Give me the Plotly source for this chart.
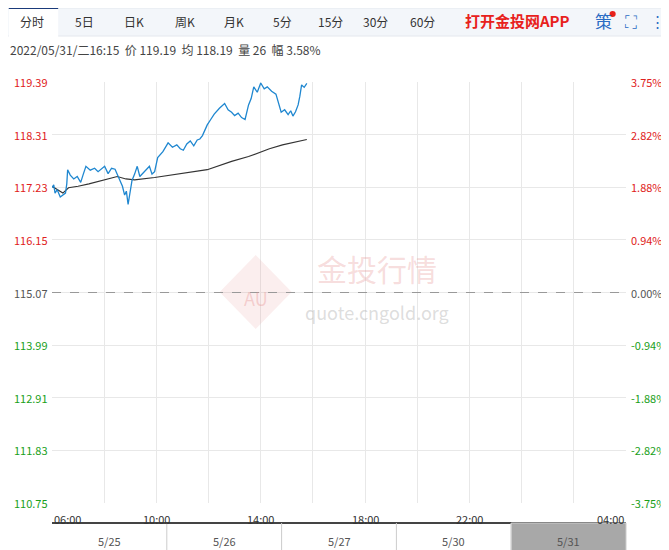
import plotly.graph_objects as go

# 分时价格 (分钟, 从06:00起)
t_price = [0, 4, 7, 12, 19, 25, 31, 34, 36, 42, 50, 58, 66, 72, 78, 88, 98, 106, 113, 121, 129, 137, 145, 151,
           157, 162, 167, 171, 175, 180, 184, 190, 196, 202, 208, 216, 224, 230, 236, 243, 255, 267, 277, 287,
           295, 302, 310, 318, 326, 334, 340, 346, 352, 357, 365, 373, 385, 397, 405, 413, 420, 428, 436, 444,
           452, 458, 464, 472, 480, 488, 495, 505, 515, 521, 527, 535, 543, 549, 554, 560, 566, 570, 574, 580, 586]
price = [117.22, 117.28, 117.11, 117.18, 117.03, 117.08, 117.11, 117.30, 117.59, 117.48, 117.40, 117.45, 117.33,
         117.50, 117.66, 117.58, 117.62, 117.55, 117.60, 117.66, 117.51, 117.62, 117.60, 117.48,
         117.37, 117.25, 117.07, 117.15, 116.88, 117.20, 117.37, 117.50, 117.66, 117.45, 117.51, 117.60,
         117.66, 117.50, 117.55, 117.84, 117.96, 118.14, 118.05, 118.10, 118.02, 117.99, 118.12, 118.18,
         118.08, 118.20, 118.22, 118.29, 118.40, 118.51, 118.62, 118.73, 118.85, 118.95, 118.82, 118.77,
         118.70, 118.75, 118.66, 118.62, 118.92, 119.05, 119.29, 119.18, 119.37, 119.25, 119.29, 119.20,
         119.14, 118.95, 118.77, 118.82, 118.72, 118.80, 118.69, 118.78, 118.92, 119.10, 119.33, 119.28, 119.36]

# 均价
t_avg = [0, 12, 25, 38, 60, 85, 113, 150, 170, 190, 236, 300, 357, 413, 452, 500, 530, 586]
avg = [117.25, 117.18, 117.11, 117.22, 117.25, 117.30, 117.36, 117.45, 117.40, 117.38, 117.43, 117.52,
       117.59, 117.76, 117.86, 118.02, 118.10, 118.21]

base = 115.07
y_ticks = [119.39, 118.31, 117.23, 116.15, 115.07, 113.99, 112.91, 111.83, 110.75]
pct_labels = ['3.75%', '2.82%', '1.88%', '0.94%', '0.00%', '-0.94%', '-1.88%', '-2.82%', '-3.75%']
x_grid = list(range(0, 1321, 120))
x_labels = {0: '06:00', 240: '10:00', 480: '14:00', 720: '18:00', 960: '22:00', 1320: '04:00'}
nav_dates = ['5/25', '5/26', '5/27', '5/30', '5/31']


def px(x):  # 页面像素 -> paper
    return (x - 52) / 558


def py(y):
    return (503 - y) / 421


def txt(x, y, s, size, color, xa='center'):
    return dict(x=px(x), y=py(y), xref='paper', yref='paper', text=s, showarrow=False,
                xanchor=xa, yanchor='middle', font=dict(size=size, color=color))


fig = go.Figure()
fig.add_trace(go.Scatter(x=t_avg, y=avg, mode='lines', line=dict(color='#333333', width=1.2), hoverinfo='skip'))
fig.add_trace(go.Scatter(x=t_price, y=price, mode='lines', line=dict(color='#1f87d0', width=1.3), hoverinfo='skip'))

fig.update_xaxes(range=[0, 1320], tickvals=x_grid, showticklabels=False, showgrid=True,
                 gridcolor='#e8e8e8', zeroline=False, showline=False)
fig.update_yaxes(range=[110.75, 119.39], tickvals=y_ticks, showticklabels=False, showgrid=True,
                 gridcolor='#e8e8e8', zeroline=False)

anns = []
for v, p in zip(y_ticks, pct_labels):
    c = '#e02020' if v > base else ('#19a019' if v < base else '#555555')
    anns.append(dict(x=-0.003, y=v, xref='paper', yref='y', text=f'{v:.2f}', showarrow=False,
                     xanchor='right', yanchor='middle', font=dict(size=11, color=c)))
    anns.append(dict(x=1.005, y=v, xref='paper', yref='y', text=p, showarrow=False,
                     xanchor='left', yanchor='middle', font=dict(size=11, color=c)))
for t, s in x_labels.items():
    xa = 'left' if t == 0 else ('right' if t == 1320 else 'center')
    anns.append(dict(x=t, y=-0.015, xref='x', yref='paper', text=s, showarrow=False, xanchor=xa,
                     yanchor='top', font=dict(size=11, color='#333333')))
for i, d in enumerate(nav_dates):
    anns.append(dict(x=(i + 0.5) / 5, y=py(541), xref='paper', yref='paper', text=d, showarrow=False,
                     xanchor='center', yanchor='middle', font=dict(size=11, color='#555555')))

# 顶部标签栏
tabs = ['分时', '5日', '日K', '周K', '月K', '5分', '15分', '30分', '60分']
tab_x = [33, 84, 132, 181, 229, 276, 323, 366, 412]
for s, xp in zip(tabs, tab_x):
    anns.append(txt(xp, 22, s, 12, '#333333'))
anns.append(txt(505, 21, '<b>打开金投网APP</b>', 15, '#e8211c'))
anns.append(txt(588, 21, '策', 17, '#2b6cc4'))
anns.append(txt(615, 21, '⛶', 17, '#2b6cc4'))
anns.append(txt(641, 21, '⋮', 15, '#2b6cc4'))
anns.append(txt(9, 50, '2022/05/31/二16:15  价 119.19  均 118.19  量 26  幅 3.58%', 12, '#444444', xa='left'))
# 水印
anns.append(txt(368, 268, '金投行情', 30, 'rgba(230,140,140,0.3)'))
anns.append(txt(368, 312, 'quote.cngold.org', 18, 'rgba(180,180,180,0.45)'))
anns.append(txt(250, 298, 'AU', 18, 'rgba(230,140,140,0.35)'))

shapes = [
    dict(type='rect', xref='paper', yref='paper', x0=px(0), x1=px(669), y0=py(36), y1=py(8),
         fillcolor='#f3f6fa', line=dict(color='#e4e8ee', width=1), layer='below'),
    dict(type='rect', xref='paper', yref='paper', x0=px(10), x1=px(58), y0=py(37), y1=py(8),
         fillcolor='white', line=dict(width=0)),
    dict(type='line', xref='paper', yref='paper', x0=px(10), x1=px(58), y0=py(8), y1=py(8),
         line=dict(color='#1a3a7a', width=2)),
    dict(type='path', xref='paper', yref='paper',
         path=f'M {px(250)},{py(255)} L {px(285)},{py(292)} L {px(250)},{py(329)} L {px(215)},{py(292)} Z',
         fillcolor='rgba(230,140,140,0.15)', line=dict(width=0)),
    dict(type='circle', xref='paper', yref='paper', x0=px(594), x1=px(600), y0=py(17), y1=py(11),
         fillcolor='#e8211c', line=dict(width=0)),
    dict(type='line', xref='paper', yref='y', x0=0, x1=1, y0=base, y1=base,
         line=dict(color='#999999', width=1, dash='dash')),
    dict(type='line', xref='paper', yref='paper', x0=0, x1=1, y0=py(523), y1=py(523),
         line=dict(color='#444444', width=2)),
    dict(type='rect', xref='paper', yref='paper', x0=0.8, x1=1, y0=py(523), y1=py(552),
         fillcolor='#a8a8a8', line=dict(color='#cccccc', width=1)),
]
for i in range(1, 5):
    shapes.append(dict(type='line', xref='paper', yref='paper', x0=i / 5, x1=i / 5, y0=py(523), y1=py(552),
                       line=dict(color='#cccccc', width=1)))

fig.update_layout(width=669, height=550, margin=dict(l=44, r=51, t=74, b=55), showlegend=False,
                  plot_bgcolor='white', paper_bgcolor='white', annotations=anns, shapes=shapes,
                  font=dict(family='Noto Sans CJK SC, Arial'))
fig.write_html('out.html')
